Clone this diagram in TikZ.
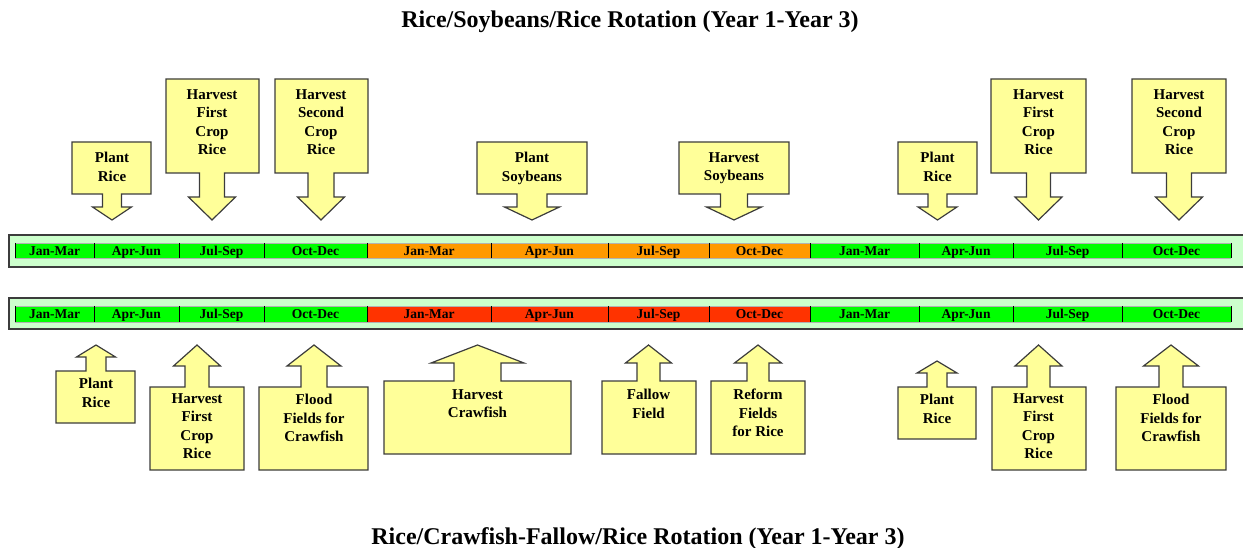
\documentclass[tikz,border=0pt]{standalone}
\usepackage{fontspec}
\setmainfont{Liberation Serif}
\usepackage{tikz,pgffor}

\definecolor{stripbg}{RGB}{204,255,204}
\definecolor{ricegreen}{RGB}{0,255,0}
\definecolor{soyorange}{RGB}{255,153,0}
\definecolor{fishred}{RGB}{255,51,0}
\definecolor{noteyellow}{RGB}{255,255,153}
\definecolor{edgegray}{RGB}{60,60,60}

\begin{document}
\begin{tikzpicture}[x=1pt,y=-1pt,
  callout/.style={fill=noteyellow, draw=edgegray, line width=1.2pt},
  notetext/.style={anchor=north, inner sep=0pt, align=center,
    font=\bfseries\fontsize{15}{18.5}\selectfont},
  barlab/.style={anchor=base, inner sep=0pt, font=\bfseries\fontsize{13.5}{15}\selectfont},
  heading/.style={anchor=base, inner sep=0pt, font=\bfseries\fontsize{24}{27}\selectfont}]
\useasboundingbox (0,0) rectangle (1243,548);

\node[heading] (toptitle) at (630,27.5) {Rice/Soybeans/Rice Rotation (Year 1-Year 3)};
\node[heading] (bottitle) at (638,544) {Rice/Crawfish-Fallow/Rice Rotation (Year 1-Year 3)};

%%%%%%%%%%%%%%%%%%%%%%%%%%%%
% the two strips
\fill[stripbg] (9,235) rectangle (1243,267);
\draw[edgegray, line width=1.2pt] (1243,235) -- (9,235) -- (9,267) -- (1243,267);
\fill[stripbg] (9,298) rectangle (1243,329);
\draw[edgegray, line width=1.2pt] (1243,298) -- (9,298) -- (9,329) -- (1243,329);

\foreach \a/\b/\m/\up/\dn [count=\i] in {
  15/94/Jan-Mar/ricegreen/ricegreen, 94/179/Apr-Jun/ricegreen/ricegreen,
  179/264/Jul-Sep/ricegreen/ricegreen, 264/367/Oct-Dec/ricegreen/ricegreen,
  367/491/Jan-Mar/soyorange/fishred, 491/608/Apr-Jun/soyorange/fishred,
  608/709/Jul-Sep/soyorange/fishred, 709/810/Oct-Dec/soyorange/fishred,
  810/919/Jan-Mar/ricegreen/ricegreen, 919/1013/Apr-Jun/ricegreen/ricegreen,
  1013/1122/Jul-Sep/ricegreen/ricegreen, 1122/1231/Oct-Dec/ricegreen/ricegreen}
{
  \fill[\up] (\a,243) rectangle (\b,258);
  \fill[\dn] (\a,306) rectangle (\b,322);
  \draw[gray!60, line width=0.8pt] (\a,243) -- (\b,243) (\a,258) -- (\b,258);
  \draw[gray!60, line width=0.8pt] (\a,306) -- (\b,306) (\a,322) -- (\b,322);
  \draw[black, line width=1pt] (\a,243) -- (\a,258) (\a,306) -- (\a,322);
  \node[barlab] (up\i) at ({(\a+\b)/2},255.5) {\m};
  \node[barlab] (dn\i) at ({(\a+\b)/2},318.5) {\m};
}
\draw[black, line width=1pt] (1231,243) -- (1231,258) (1231,306) -- (1231,322);

%%%%%%%%%%%%%%%%%%%%%%%%%%%%
% callouts above
\draw[callout] (72,142) -- (151,142) -- (151,194) -- (121.5,194) -- (121.5,207) -- (131.5,207)
  -- (112,220) -- (92.5,207) -- (102.5,207) -- (102.5,194) -- (72,194) -- cycle;
\node[notetext] (plant1) at (112,152) {Plant\\Rice};

\draw[callout] (166,79) -- (259,79) -- (259,173) -- (224.5,173) -- (224.5,197) -- (235.5,197)
  -- (212,220) -- (188.5,197) -- (199.5,197) -- (199.5,173) -- (166,173) -- cycle;
\node[notetext] (first1) at (212,89) {Harvest\\First\\Crop\\Rice};

\draw[callout] (275,79) -- (368,79) -- (368,173) -- (334,173) -- (334,197) -- (344.5,197)
  -- (321,220) -- (297.5,197) -- (308,197) -- (308,173) -- (275,173) -- cycle;
\node[notetext] (second1) at (321,89) {Harvest\\Second\\Crop\\Rice};

\draw[callout] (477,142) -- (587,142) -- (587,194) -- (547,194) -- (547,207) -- (559.5,207)
  -- (532,220) -- (504.5,207) -- (517,207) -- (517,194) -- (477,194) -- cycle;
\node[notetext] (plantsoy) at (532,152) {Plant\\Soybeans};

\draw[callout] (679,142) -- (789,142) -- (789,194) -- (747.5,194) -- (747.5,207) -- (761.5,207)
  -- (734,220) -- (706.5,207) -- (720.5,207) -- (720.5,194) -- (679,194) -- cycle;
\node[notetext] (harvsoy) at (734,152) {Harvest\\Soybeans};

\draw[callout] (898,142) -- (977,142) -- (977,194) -- (947,194) -- (947,207) -- (957,207)
  -- (937.5,220) -- (918,207) -- (928,207) -- (928,194) -- (898,194) -- cycle;
\node[notetext] (plant3) at (937.5,152) {Plant\\Rice};

\draw[callout] (991,79) -- (1086,79) -- (1086,173) -- (1050.5,173) -- (1050.5,197) -- (1062,197)
  -- (1038.5,220) -- (1015,197) -- (1026.5,197) -- (1026.5,173) -- (991,173) -- cycle;
\node[notetext] (first3) at (1038.5,89) {Harvest\\First\\Crop\\Rice};

\draw[callout] (1132,79) -- (1226,79) -- (1226,173) -- (1191.5,173) -- (1191.5,197) -- (1202.5,197)
  -- (1179,220) -- (1155.5,197) -- (1166.5,197) -- (1166.5,173) -- (1132,173) -- cycle;
\node[notetext] (second3) at (1179,89) {Harvest\\Second\\Crop\\Rice};

%%%%%%%%%%%%%%%%%%%%%%%%%%%%
% callouts below
\draw[callout] (56,423) -- (135,423) -- (135,371) -- (106,371) -- (106,357) -- (115.5,357)
  -- (96,345) -- (76.5,357) -- (86,357) -- (86,371) -- (56,371) -- cycle;
\node[notetext] (bplant1) at (96,378) {Plant\\Rice};

\draw[callout] (150,470) -- (244,470) -- (244,387) -- (209,387) -- (209,366) -- (220.5,366)
  -- (197,345) -- (173.5,366) -- (185,366) -- (185,387) -- (150,387) -- cycle;
\node[notetext] (bfirst1) at (197,393) {Harvest\\First\\Crop\\Rice};

\draw[callout] (259,470) -- (368,470) -- (368,387) -- (327,387) -- (327,366) -- (341,366)
  -- (314,345) -- (287,366) -- (301,366) -- (301,387) -- (259,387) -- cycle;
\node[notetext] (bflood1) at (314,394) {Flood\\Fields for\\Crawfish};

\draw[callout] (384,454) -- (571,454) -- (571,381) -- (501,381) -- (501,363) -- (524,363)
  -- (477.5,345) -- (431,363) -- (454,363) -- (454,381) -- (384,381) -- cycle;
\node[notetext] (crawfish) at (477.5,389) {Harvest\\Crawfish};

\draw[callout] (602,454) -- (696,454) -- (696,381) -- (660,381) -- (660,363) -- (671.5,363)
  -- (648.5,345) -- (625.5,363) -- (637,363) -- (637,381) -- (602,381) -- cycle;
\node[notetext] (fallow) at (648.5,389) {Fallow\\Field};

\draw[callout] (711,454) -- (805,454) -- (805,381) -- (769,381) -- (769,363) -- (781.5,363)
  -- (758,345) -- (734.5,363) -- (747,363) -- (747,381) -- (711,381) -- cycle;
\node[notetext] (reform) at (758,389) {Reform\\Fields\\for Rice};

\draw[callout] (898,439) -- (976,439) -- (976,387) -- (947,387) -- (947,373) -- (957,373)
  -- (937,361) -- (917,373) -- (927,373) -- (927,387) -- (898,387) -- cycle;
\node[notetext] (bplant3) at (937,394) {Plant\\Rice};

\draw[callout] (992,470) -- (1086,470) -- (1086,387) -- (1050,387) -- (1050,366) -- (1062,366)
  -- (1038.5,345) -- (1015,366) -- (1027,366) -- (1027,387) -- (992,387) -- cycle;
\node[notetext] (bfirst3) at (1038.5,393) {Harvest\\First\\Crop\\Rice};

\draw[callout] (1116,470) -- (1226,470) -- (1226,387) -- (1183,387) -- (1183,366) -- (1198.5,366)
  -- (1171,345) -- (1143.5,366) -- (1159,366) -- (1159,387) -- (1116,387) -- cycle;
\node[notetext] (bflood3) at (1171,394) {Flood\\Fields for\\Crawfish};
\end{tikzpicture}
\end{document}
